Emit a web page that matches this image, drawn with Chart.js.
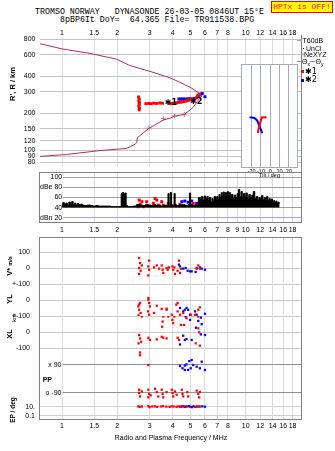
<!DOCTYPE html>
<html>
<head>
<meta charset="utf-8">
<script src="https://cdn.jsdelivr.net/npm/chart.js@4.4.1/dist/chart.umd.min.js"></script>
<style>
  body { margin: 0; background: #fff; }
  #stage { position: relative; width: 335px; height: 451px; overflow: hidden; background: #fff;
           font-family: 'Liberation Sans', Arial, sans-serif; }
  #stage canvas { position: absolute; }
  .txt { position: absolute; white-space: nowrap; line-height: 1; color: #000; z-index: 6; }
  .frame { position: absolute; box-sizing: border-box; border: 1px solid #808080; pointer-events: none; z-index: 5; }
  .bar { position: absolute; z-index: 6; }
</style>
</head>
<body>
<div id="stage"></div>
<script>
// ---- axis ticks ----
const freqTicks = [1, 1.5, 2, 3, 4, 5, 6, 7, 8, 10, 12, 14, 16, 18];
const freqTicksDb = [1, 1.5, 2, 3, 4, 5, 6, 7, 8, 9, 10, 12, 14, 16, 18];
const heightTicks = [80, 90, 100, 120, 150, 200, 300, 400, 600, 800];
const tiltTicks = [-20, -10, 0, 10, 20];
const dbTicks = [20, 40, 60, 80, 100];
const dbTickLabels = ['dBn 20', '40', '60', 'dBe 80', '100'];

// ---- N(h) profile (plasma frequency MHz, real height km) ----
const profFreq = [0.76, 1.06, 1.61, 2.25, 2.50, 2.55, 2.57, 2.77, 2.98, 3.28, 3.56, 3.87, 4.09, 4.63, 5.18, 5.49, 5.77,
                  5.50, 4.98, 4.67, 4.38, 3.87, 3.01, 2.34, 1.98, 1.42, 1.00, 0.76];
const profHeight = [89.6, 92.9, 99.9, 104, 112.5, 116, 127, 139, 152, 164, 177, 183, 190, 196, 224, 254, 277,
                    296, 327, 341, 358, 389, 439, 489, 551, 614, 668, 735];
const nexFreq = [2.98, 3.56, 4.09, 4.63];
const nexHeight = [152, 182, 190, 196];

// ---- echo traces, virtual height ----
const o1Freq = [2.61, 2.63, 2.62, 2.64, 2.63, 2.62, 2.64, 2.63,
                2.86, 2.96, 3.04, 3.15, 3.27, 3.40, 3.52,
                3.90, 4.00, 4.10, 4.20, 4.30, 4.40, 4.50, 4.60, 4.70, 4.80, 4.90, 5.00, 5.10,
                5.38, 5.45, 5.52, 5.60];
const o1Height = [272, 262, 252, 244, 236, 228, 220, 214,
                  240, 241, 240, 242, 241, 243, 242,
                  240, 241, 242, 244, 246, 247, 248, 250, 252, 254, 256, 259, 262,
                  268, 276, 282, 286];
const x2Freq = [4.33, 4.42, 4.50, 4.60, 4.70, 4.80, 4.90, 5.00, 5.10, 5.20, 5.30, 5.50, 5.60, 5.70, 5.80, 6.00];
const x2Height = [262, 261, 262, 262, 261, 262, 263, 262, 262, 263, 264, 276, 282, 287, 290, 273];
const traceNames = ['\u27311', '\u27312'];
const traceNameFreq = [3.63, 4.98];
const traceNameHeight = [243, 250];

// ---- tilt (deg) vs height ----
const tilt1 = [-3.9, -9.2, -11.0, -13.5];
const tiltH1 = [197, 196, 177, 148];
const tilt2 = [-22.3, -17.0, -14.0, -8.6];
const tiltH2 = [197, 194, 185, 148];

// ---- amplitude panel ----
const ampFreq = [1.00, 1.02, 1.04, 1.06, 1.08, 1.10, 1.12, 1.14, 1.16, 1.18, 1.20, 1.22, 1.25, 1.28, 1.30,
                 1.35, 1.40, 1.45, 1.50, 1.55, 1.60, 1.70, 1.80, 1.90, 2.00, 2.08,
                 2.12, 2.15, 2.18, 2.22, 2.25,
                 2.30, 2.40, 2.50, 2.60, 2.70, 2.80, 2.90, 3.00, 3.10, 3.20, 3.30, 3.40, 3.50, 3.60, 3.70, 3.75,
                 3.80, 3.85, 3.92, 3.97, 4.05, 4.10, 4.16, 4.30, 4.40, 4.50, 4.60, 4.70, 4.80, 4.90,
                 4.98, 5.05, 5.15, 5.25, 5.35, 5.45,
                 5.60, 5.70, 5.80, 5.90, 6.00, 6.10, 6.20, 6.30, 6.40, 6.50, 6.60, 6.70, 6.80,
                 6.90, 7.00, 7.10, 7.20, 7.30, 7.40, 7.50, 7.60, 7.70, 7.80, 7.90, 8.00, 8.10, 8.20, 8.30,
                 8.45, 8.60, 8.75, 8.90, 9.05, 9.20, 9.35, 9.50, 9.65, 9.80, 9.95, 10.1, 10.3, 10.5, 10.7,
                 10.9, 11.1, 11.3, 11.5, 11.7, 11.9, 12.1, 12.3, 12.5, 12.7, 12.9, 13.1, 13.3, 13.5, 13.7,
                 13.9, 14.1, 14.3, 14.5, 14.7, 14.9, 15.1, 15.3];
const ampLevel = [47, 50, 46, 49, 45, 51, 47, 52, 46, 49, 45, 48, 46, 47, 45,
                  44, 45, 44, 43, 44, 43, 43, 43, 42, 42, 42,
                  68, 70, 67, 69, 44,
                  42, 42, 43, 46, 45, 44, 46, 45, 44, 46, 44, 45, 43, 44, 45, 44,
                  68, 44, 70, 45, 44, 68, 45, 44, 46, 45, 46, 45, 44, 46,
                  69, 47, 45, 44, 46, 45,
                  60, 52, 62, 55, 63, 58, 62, 55, 60, 52, 58, 54, 62,
                  55, 62, 57, 66, 60, 70, 64, 71, 63, 70, 62, 72, 66, 70, 60,
                  66, 58, 65, 60, 68, 76, 62, 72, 60, 68, 62, 69, 58, 66, 60,
                  65, 72, 58, 62, 55, 60, 57, 64, 56, 60, 55, 62, 54, 58, 53,
                  57, 52, 54, 50, 53, 49, 51, 48];
const ampF1 = [2.60, 2.63, 2.66, 2.72, 2.77, 2.89, 3.14, 3.21, 3.28, 3.34, 3.49, 3.56, 3.79, 3.96, 4.12, 4.39, 4.57, 5.18, 5.44];
const ampV1 = [41.8, 55, 46.5, 51.7, 41.8, 51.7, 48.5, 58, 55, 45, 51.7, 45, 48.5, 43.8, 45, 46.5, 43.8, 48.5, 45];
const ampF2 = [4.49, 4.66, 4.86, 5.08, 5.41, 5.63, 5.80];
const ampV2 = [51.7, 53, 50.5, 53, 48.5, 55, 53];

// ---- V* (m/s) ----
const vTicks = [100, 0, -100];
const vTickLabels = ['100', '0', '+-100'];
const vF1 = [2.63, 2.66, 2.63, 2.68, 2.63, 2.72, 2.98, 2.95, 2.98, 2.95, 3.17, 3.28, 3.38, 3.49, 3.53, 3.56, 3.71, 3.76,
             3.82, 3.99, 4.03, 4.09, 4.12, 4.26, 4.33, 4.39, 4.44, 5.41, 5.52, 5.63];
const vV1 = [62, 31, 0, -17, -37, 16, 46, 10, -11, -46, 4, 16, -4, 16, -11, -31, 0, -11,
             4, 10, -11, 4, -37, -17, 46, -31, -4, -4, 16, -4];
const vF2 = [4.33, 4.39, 4.57, 4.71, 4.83, 4.98, 5.08, 5.34, 5.41, 5.63, 5.76, 6.00];
const vV2 = [21, 10, -4, 0, -17, -21, -21, -25, 0, 4, -4, -11];

// ---- YL (km) ----
const ylTicks = [0, -100];
const ylTickLabels = ['0', '+-100'];
const ylF1 = [2.60, 2.63, 2.66, 2.63, 2.68, 2.61, 2.95, 2.95, 2.98, 3.01, 2.94, 2.98, 3.28, 3.17, 3.49, 3.71, 3.71, 3.96,
              4.19, 4.26, 4.26, 4.39, 4.57, 5.04, 5.30, 5.52, 5.63];
const ylV1 = [-40, -29, -19, -61, -81, -96, 12, 2, -19, -40, -71, -92, -36, -81, -56, -54, -61, -92,
              -29, -19, -71, -92, -81, -92, -92, -61, -46];
const ylF2 = [4.39, 4.57, 4.66, 4.76, 4.86, 4.98, 5.30, 5.41, 6.00];
const ylV2 = [-50, -71, -61, -50, -61, -92, -71, -92, -86];

// ---- XL (km) ----
const xlTicks = [0, -100];
const xlTickLabels = ['0', '-100'];
const xlF1 = [2.72, 3.56, 3.53, 3.51, 3.79, 3.99, 4.03, 4.09, 4.44, 4.62, 4.76, 5.52, 5.52, 5.58, 2.63, 2.66, 2.70, 2.61,
              2.95, 3.01, 3.28, 3.49, 3.56, 3.71, 4.26, 4.34, 5.34, 5.63, 2.66, 2.66];
const xlV1 = [97, 97, 65, 33, 97, 76, 55, 97, 44, 44, 86, 97, 23, -2, -19, -40, -61, -71,
              -36, -50, -46, -30, -36, -40, -36, -50, -71, -86, -128, -145];
const xlF2 = [4.71, 5.70, 4.98, 5.52, 5.36, 5.76, 5.70, 6.00, 4.57, 4.66, 4.76, 5.08, 4.39];
const xlV2 = [97, 90, 76, 69, 27, 49, -15, -19, -23, -50, -44, -50, -78];

// ---- PP (deg) ----
const ppTicks = [90, -90];
const ppTickLabels = ['x 90', 'o -90'];
const ppF1 = [2.95, 2.63, 2.63, 2.66, 2.72, 2.95, 2.98, 2.95, 3.04, 3.21, 3.28, 3.34, 3.49, 3.53, 3.56, 3.71, 3.96, 4.00,
              4.03, 4.12, 4.21, 4.49, 4.53, 4.57, 4.81, 4.86, 5.41, 5.52, 5.58, 5.63];
const ppV1 = [90, -69, -90, -112, -80, -69, -96, -118, -105, -63, -84, -112, -69, -96, -118, -84, -69, -90,
              -112, -80, -101, -69, -96, -112, -84, -112, -75, -96, -118, -84];
const ppF2 = [4.39, 4.53, 4.66, 4.76, 4.93, 5.08, 5.02, 5.18, 5.41, 5.63, 5.76, 6.00, 4.66, 4.86];
const ppV2 = [84, 69, 58, 94, 115, 122, 69, 90, 79, 69, 111, 58, 86, 58];

// ---- EP (deg) ----
const epTicks = [10, 0.1];
const epTickLabels = ['10.', '0.1'];
const epF1 = [2.60, 2.65, 2.72, 2.95, 3.00, 3.10, 3.20, 3.30, 3.45, 3.55, 3.70, 3.85, 3.95, 4.05, 4.20, 4.30, 4.45, 4.60,
              4.80, 5.30, 5.45, 5.60];
const epV1 = [12, 9, 11, 13, 8, 11, 12, 9, 11, 13, 10, 9, 12, 11, 9, 12, 10, 13, 11, 9, 12, 10];
const epF2 = [4.40, 4.50, 4.65, 4.75, 4.90, 5.00, 5.10, 5.20, 5.40, 5.60, 5.80, 6.00];
const epV2 = [10, 12, 9, 11, 13, 10, 8, 12, 10, 11, 12, 10];

const RED = '#ff0000';
const BLUE = '#0000ff';
const F_MIN = 0.759, F_MAX = 20.25;

Chart.defaults.font.family = "'Liberation Sans', Arial, sans-serif";
Chart.defaults.font.size = 7;
Chart.defaults.color = '#000';

const stage = document.getElementById('stage');

function addCanvas(left, top, width, height) {
  const c = document.createElement('canvas');
  c.width = width;
  c.height = height;
  c.style.left = left + 'px';
  c.style.top = top + 'px';
  stage.appendChild(c);
  return c;
}

function put(html, left, cy, size, style) {
  const d = document.createElement('div');
  d.className = 'txt';
  d.innerHTML = html;
  d.style.cssText += 'left:' + left + 'px;top:' + (cy - size / 2) + 'px;font-size:' + size + 'px;' + (style || '');
  stage.appendChild(d);
  return d;
}

function putRot(html, cx, cy, size, style) {
  const d = put(html, cx, cy, size, style);
  d.style.top = cy + 'px';
  d.style.transform = 'translate(-50%, -50%) rotate(-90deg)';
  return d;
}

function box(cls, left, top, width, height, style) {
  const d = document.createElement('div');
  d.className = cls;
  d.style.cssText = 'left:' + left + 'px;top:' + top + 'px;width:' + width + 'px;height:' + height + 'px;' + (style || '');
  stage.appendChild(d);
  return d;
}

const pts = (xs, ys) => xs.map((x, i) => ({ x: x, y: ys[i] }));

function dots(xs, ys, color, r) {
  return {
    data: pts(xs, ys), showLine: false, pointStyle: 'rect', pointRadius: r,
    pointBackgroundColor: color, pointBorderWidth: 0, borderColor: color
  };
}

// fixed-size axes: the label overhang must not move the plot area
function fixHeight(h) {
  return s => { s.height = h; s.paddingLeft = 0; s.paddingRight = 0; };
}
function fixWidth(w) {
  return s => { s.width = w; s.paddingTop = 0; s.paddingBottom = 0; };
}

function freqAxis(ticks, showLabels, height, extra) {
  return Object.assign({
    type: 'logarithmic', min: F_MIN, max: F_MAX,
    afterBuildTicks: s => { s.ticks = ticks.map(v => ({ value: v })); },
    afterFit: fixHeight(height),
    grid: { color: '#dcdcdc', drawTicks: false },
    border: { display: false },
    ticks: { display: showLabels, autoSkip: false, maxRotation: 0, padding: 3, callback: v => String(v) }
  }, extra || {});
}

function valueAxis(type, min, max, ticks, labels, gridColor, tickOpts) {
  return {
    type: type, min: min, max: max,
    afterBuildTicks: s => { s.ticks = ticks.map(v => ({ value: v })); },
    afterFit: fixWidth(40),
    grid: { color: gridColor, drawTicks: false },
    border: { display: false },
    ticks: Object.assign({ autoSkip: false, padding: 10, callback: (v, i) => labels[i] }, tickOpts || {})
  };
}

// labels sitting inside the plot, blanking the grid line up to the frame
const insideLabels = (pad) => ({
  mirror: true, crossAlign: 'far', padding: pad,
  showLabelBackdrop: true, backdropColor: '#fff', backdropPadding: { left: 24, right: 1, top: 0, bottom: 0 }
});

const baseOptions = (pad, scales, plugins) => ({
  responsive: false, animation: false, events: [], devicePixelRatio: 1,
  layout: { padding: pad },
  plugins: Object.assign({ legend: { display: false }, tooltip: { enabled: false } }, plugins || {}),
  scales: scales
});

// text tags next to the traces
const traceTags = {
  id: 'traceTags',
  afterDatasetsDraw(chart) {
    const { ctx, scales: { x, y } } = chart;
    ctx.save();
    ctx.font = 'bold 8px "DejaVu Sans", sans-serif';
    ctx.fillStyle = '#000';
    ctx.textBaseline = 'middle';
    traceNames.forEach((t, i) => ctx.fillText(t, x.getPixelForValue(traceNameFreq[i]), y.getPixelForValue(traceNameHeight[i])));
    ctx.restore();
  }
};

// white panel with a thin outline (tilt inset)
const insetBox = {
  id: 'insetBox',
  beforeDraw(chart) {
    const a = chart.chartArea, ctx = chart.ctx;
    ctx.save();
    ctx.fillStyle = '#fff';
    ctx.fillRect(a.left, a.top, a.right - a.left, a.bottom - a.top);
    ctx.restore();
  },
  afterDraw(chart) {
    const a = chart.chartArea, ctx = chart.ctx;
    ctx.save();
    ctx.strokeStyle = '#a8a8c8';
    ctx.lineWidth = 1;
    ctx.strokeRect(a.left + 0.5, a.top + 0.5, a.right - a.left - 1, a.bottom - a.top - 1);
    ctx.restore();
  }
};

// ---------- ionogram (virtual / real height) ----------
new Chart(addCanvas(0, 26, 335, 146), {
  type: 'line',
  data: {
    datasets: [
      { data: pts(profFreq, profHeight), borderColor: '#b0305a', borderWidth: 1, pointRadius: 0, fill: false },
      { data: pts(nexFreq, nexHeight), showLine: false, pointStyle: 'cross', pointRadius: 2.5,
        pointBorderColor: '#e8709c', pointBorderWidth: 1, borderColor: '#e8709c' },
      dots(o1Freq, o1Height, RED, 2.1),
      dots(x2Freq, x2Height, BLUE, 2.1)
    ]
  },
  options: baseOptions({ left: 0, right: 33, top: 0, bottom: 0 }, {
    x: freqAxis(freqTicks, true, 11, { position: 'top', ticks: { autoSkip: false, maxRotation: 0, padding: 0, callback: v => String(v) } }),
    y: valueAxis('logarithmic', 73.5, 834, heightTicks, heightTicks.map(String), '#c4c4c4', { padding: 4.5 })
  }),
  plugins: [traceTags]
});

// ---------- amplitude ----------
new Chart(addCanvas(0, 166, 335, 70), {
  type: 'line',
  data: {
    datasets: [
      { data: pts(ampFreq, ampLevel), borderColor: '#000', backgroundColor: '#000', borderWidth: 1,
        pointRadius: 0, stepped: 'middle', fill: { value: 40 } },
      dots(ampF1, ampV1, RED, 2.1),
      dots(ampF2, ampV2, BLUE, 2.1)
    ]
  },
  options: baseOptions({ left: 0, right: 33, top: 7, bottom: 0 }, {
    x: freqAxis(freqTicksDb, true, 14, { ticks: { autoSkip: false, maxRotation: 0, padding: 3.8, callback: v => String(v) } }),
    y: Object.assign(valueAxis('linear', 11.5, 108.5, dbTicks, dbTickLabels, '#a0a0a0', insideLabels(0)),
      { grid: { drawTicks: false, color: c => (c.tick && c.tick.value === 20 ? '#a0a0f0' : '#a0a0a0') } })
  })
});

// ---------- tilt inset ----------
new Chart(addCanvas(241, 64, 57, 115), {
  type: 'line',
  data: {
    datasets: [
      { data: pts(tilt1, tiltH1), borderColor: RED, borderWidth: 2, pointRadius: 0, fill: false },
      { data: pts(tilt2, tiltH2), borderColor: BLUE, borderWidth: 2, pointRadius: 0, fill: false }
    ]
  },
  options: baseOptions({ left: 0, right: 0, top: 0, bottom: 0 }, {
    x: {
      type: 'linear', min: -31.5, max: 29.8,
      afterBuildTicks: s => { s.ticks = tiltTicks.map(v => ({ value: v })); },
      afterFit: fixHeight(11),
      grid: { color: '#a8a8c8', drawTicks: false },
      border: { display: false },
      ticks: { autoSkip: false, maxRotation: 0, padding: 0, font: { size: 5.5 } },
      title: { display: true, text: 'Tilt / deg', font: { size: 5.5 }, padding: { top: 0, bottom: 0 } }
    },
    y: { type: 'logarithmic', min: 79, max: 513, display: false }
  }),
  plugins: [insetBox]
});

// ---------- drift / position / polarization rows ----------
function row(top, height, yScale, sets, last) {
  const padB = last ? 0 : 6;
  const extra = last ? 26 : 0;
  return new Chart(addCanvas(0, top - 6, 335, height + 6 + padB + extra), {
    type: 'line',
    data: { datasets: sets },
    options: baseOptions({ left: 0, right: 33, top: 6, bottom: padB }, {
      x: last
        ? freqAxis(freqTicks, true, 26, {
            ticks: { autoSkip: false, maxRotation: 0, padding: 2.5, callback: v => String(v) },
            title: { display: true, text: 'Radio and Plasma Frequency / MHz', padding: { top: 0, bottom: 2.5 } }
          })
        : freqAxis(freqTicks, false, 0),
      y: yScale
    })
  });
}

row(237, 47, valueAxis('linear', -100, 193.75, vTicks, vTickLabels, '#c8c8c8'),
    [dots(vF1, vV1, RED, 1.6), dots(vF2, vV2, BLUE, 1.6)]);
row(284, 32, valueAxis('linear', -100, 100, ylTicks, ylTickLabels, '#c8c8c8'),
    [dots(ylF1, ylV1, RED, 1.6), dots(ylF2, ylV2, BLUE, 1.6)]);
row(316, 41, valueAxis('linear', -156.25, 100, xlTicks, xlTickLabels, '#c8c8c8'),
    [dots(xlF1, xlV1, RED, 1.6), dots(xlF2, xlV2, BLUE, 1.6)]);
row(357, 43, valueAxis('linear', -135, 141.4, ppTicks, ppTickLabels, '#909090', insideLabels(5.5)),
    [dots(ppF1, ppV1, RED, 1.6), dots(ppF2, ppV2, BLUE, 1.6)]);
row(400, 19, valueAxis('logarithmic', 0.0226, 276, epTicks, epTickLabels, '#d0d0d0', { padding: 5 }),
    [dots(epF1, epV1, RED, 1.6), dots(epF2, epV2, BLUE, 1.6)], true);

// ---------- frames ----------
box('frame', 301, 35, 1, 137, 'border:none;background:#808080;');
box('frame', 39, 172, 263, 51);
box('frame', 39, 237, 263, 183);

// ---------- header ----------
const mono = "font-family:'Liberation Mono','DejaVu Sans Mono',monospace;";
put('TROMSO NORWAY&nbsp;&nbsp; DYNASONDE 26-03-05 0846UT 15\u00b0E', 35, 12.3, 8.3, mono);
put('8pBP6It DoY=&nbsp; 64.365 File= TR911538.BPG', 60, 20.3, 8.3, mono);
const hp = box('txt', 271, 1, 62, 12,
  'box-sizing:border-box;border:1px solid #ff0000;background:#ffff00;color:#ff0000;font-size:8px;line-height:10px;text-align:center;' + mono);
hp.textContent = 'HPTx is OFF!';

// ---------- axis captions ----------
putRot("R', R / km", 13.3, 84, 7.5, 'font-weight:bold;');
putRot('V* <span style="font-size:5.5px">m/s</span>', 9.5, 266, 7.5, 'font-weight:bold;');
putRot('YL', 9.5, 298.5, 7.5, 'font-weight:bold;');
putRot('km', 14, 317.5, 6, '');
putRot('XL', 9.5, 333.5, 7.5, 'font-weight:bold;');
put('PP', 42.7, 379, 7, 'font-weight:bold;');
putRot('EP / deg', 13.3, 410, 6.5, 'font-weight:bold;');

// ---------- legend ----------
box('bar', 297, 40, 5, 1, 'background:#a0a0a0;');
put('T60dB', 302.5, 40.5, 7);
box('bar', 303, 47.5, 1, 1, 'background:#000;');
put('UnCl', 306, 48, 7);
put('+', 301, 54.5, 7, 'color:#e8709c;');
put('NeXYZ', 304, 54.5, 7);
box('bar', 297, 61, 5, 1, 'background:#d07090;');
put('\u0398<sub style="font-size:5px">x</sub>', 302, 61.5, 7);
box('bar', 310, 61, 5, 1, 'background:#8080e0;');
put('\u0398<sub style="font-size:5px">y</sub>', 315.5, 61.5, 7);
box('bar', 301, 70, 3, 3, 'background:#ff0000;');
put('\u27311', 305, 71.5, 8, "font-family:'DejaVu Sans',sans-serif;");
box('bar', 301, 78.5, 3, 3, 'background:#0000ff;');
put('\u27312', 305, 80, 8, "font-family:'DejaVu Sans',sans-serif;");
</script>
</body>
</html>
